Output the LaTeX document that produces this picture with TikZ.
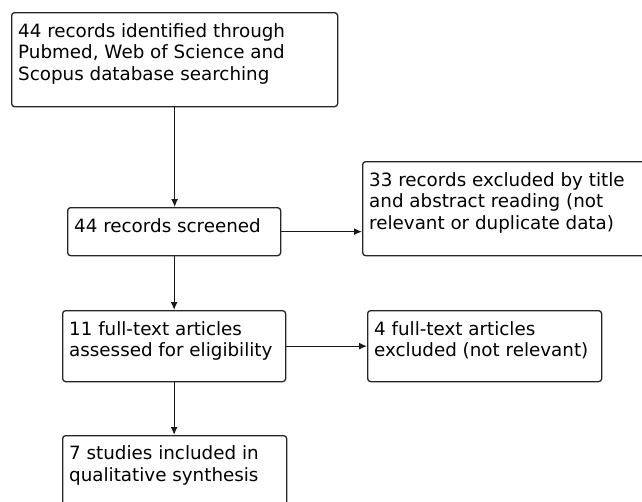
\documentclass[tikz,border=0pt]{standalone}
\usepackage{fontspec}
\setmainfont{DejaVu Sans}
\usetikzlibrary{arrows.meta,calc}
\begin{document}
\begin{tikzpicture}[x=1pt,y=-1pt,
  box/.style={draw=black!85, line width=1.3pt, rounded corners=3pt, inner sep=0pt, anchor=north west, fill=white},
  txt/.style={anchor=base west, align=left, inner sep=0pt, font=\fontsize{18.3}{21.5}\selectfont},
  arr/.style={draw=black!90, line width=1.3pt, -{Latex[length=8pt,width=7pt]}}]
\useasboundingbox (0,0) rectangle (642,501);
\clip (0,0) rectangle (642,501);
\node[box, minimum width=326pt, minimum height=94pt] (b1) at (11,12) {};
\node[box, minimum width=213pt, minimum height=48pt] (b2) at (67,207) {};
\node[box, minimum width=285pt, minimum height=94pt] (b3) at (362,161) {};
\node[box, minimum width=223pt, minimum height=71pt] (b4) at (62,310) {};
\node[box, minimum width=234pt, minimum height=71pt] (b5) at (367,310) {};
\node[box, minimum width=224pt, minimum height=94pt] (b6) at (62,435) {};
\node[txt] (t1) at ($(b1.north west)+(7,68)$) {44 records identified through\\Pubmed, Web of Science and\\Scopus database searching};
\node[txt] (t2) at ($(b2.north west)+(7,25)$) {44 records screened};
\node[txt] (t3) at ($(b3.north west)+(7,68)$) {33 records excluded by title\\and abstract reading (not\\relevant or duplicate data)};
\node[txt] (t4) at ($(b4.north west)+(7,46.5)$) {11 full-text articles\\assessed for eligibility};
\node[txt] (t5) at ($(b5.north west)+(7,46.5)$) {4 full-text articles\\excluded (not relevant)};
\node[txt] (t6) at ($(b6.north west)+(7,46)$) {7 studies included in\\qualitative synthesis};
\draw[arr] (b1.south) -- (b1.south |- b2.north);
\draw[arr] (b2.south) -- (b2.south |- b4.north);
\draw[arr] (b4.south) -- (b4.south |- b6.north);
\draw[arr] (b2.east) -- (b2.east -| b3.west);
\draw[arr] (b4.east) -- (b4.east -| b5.west);
\end{tikzpicture}
\end{document}
